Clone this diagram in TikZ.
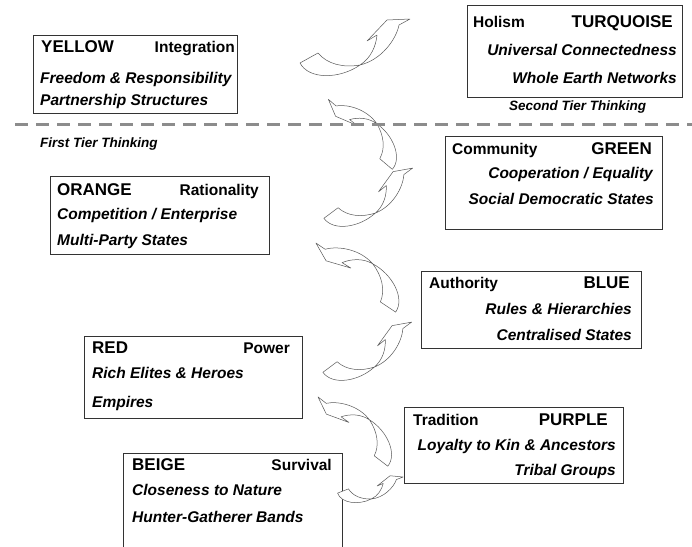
\documentclass[tikz,border=0pt]{standalone}
\usepackage{fontspec}
\setmainfont{Liberation Sans}
\usetikzlibrary{calc}

\tikzset{
  box/.style={draw=black!80, line width=0.8pt, anchor=north west},
  colourname/.style={inner sep=0pt, font=\fontsize{17}{20}\selectfont\bfseries},
  motto/.style={inner sep=0pt, font=\fontsize{15.5}{18}\selectfont\bfseries},
  trait/.style={inner sep=0pt, font=\fontsize{15.5}{18}\selectfont\bfseries\itshape},
  tierlabel/.style={inner sep=0pt, font=\fontsize{13.5}{16}\selectfont\bfseries\itshape},
  spiral/.style={draw=black!65, fill=white, line width=0.5pt, line join=round},
  twist arrow/.pic={
    % tail lobe
    \draw[spiral] (-9,5) -- (9,-5) .. controls (18,6) and (34,10) .. (51,7)
      .. controls (31,21) and (0,22) .. (-9,5) -- cycle;
    % head lobe
    \draw[spiral] (51,7) .. controls (62,0) and (67,-12) .. (68,-23) -- (58,-17)
      -- (78,-38) -- (101,-39) -- (90,-33) .. controls (87,-18) and (72,2) .. (51,7) -- cycle;
  }
}

\begin{document}
\begin{tikzpicture}[x=1pt,y=-1pt]
\path[use as bounding box, fill=white] (0,0) rectangle (692,546);

% boxes
\node[box, minimum width=204pt, minimum height=78pt] (yellow) at (33,35) {};
\node[box, minimum width=215pt, minimum height=92pt] (turquoise) at (467,5) {};
\node[box, minimum width=217pt, minimum height=93pt] (green) at (445,136) {};
\node[box, minimum width=219pt, minimum height=78pt] (orange) at (50,176) {};
\node[box, minimum width=220pt, minimum height=77pt] (blue) at (421,271) {};
\node[box, minimum width=218pt, minimum height=82pt] (red) at (84,336) {};
\node[box, minimum width=219pt, minimum height=76pt] (purple) at (404,407) {};
\node[box, minimum width=219pt, minimum height=110pt] (beige) at (123,453) {};

% YELLOW
\node[colourname, anchor=base west] (yellowname) at (41,52) {YELLOW};
\node[motto, anchor=base east] (yellowmotto) at (235,52) {Integration};
\node[trait, anchor=base west] (yellowa) at (40,83) {Freedom \& Responsibility};
\node[trait, anchor=base west] (yellowb) at (40,105) {Partnership Structures};

% TURQUOISE
\node[motto, anchor=base west] (turqmotto) at (473,27) {Holism};
\node[colourname, anchor=base east] (turqname) at (673,27) {TURQUOISE};
\node[trait, anchor=base east] (turqa) at (677,55) {Universal Connectedness};
\node[trait, anchor=base east] (turqb) at (677,83) {Whole Earth Networks};

% tiers
\node[tierlabel, anchor=base west] (second) at (509,110) {Second Tier Thinking};
\node[tierlabel, anchor=base west] (first) at (40,147) {First Tier Thinking};

% GREEN
\node[motto, anchor=base west] (greenmotto) at (452,154) {Community};
\node[colourname, anchor=base east] (greenname) at (652,154) {GREEN};
\node[trait, anchor=base east] (greena) at (653,178) {Cooperation / Equality};
\node[trait, anchor=base east] (greenb) at (654,204) {Social Democratic States};

% ORANGE
\node[colourname, anchor=base west] (orangename) at (57,195) {ORANGE};
\node[motto, anchor=base east] (orangemotto) at (259,195) {Rationality};
\node[trait, anchor=base west] (orangea) at (57,219) {Competition / Enterprise};
\node[trait, anchor=base west] (orangeb) at (57,245) {Multi-Party States};

% BLUE
\node[motto, anchor=base west] (bluemotto) at (429,288) {Authority};
\node[colourname, anchor=base east] (bluename) at (630,288) {BLUE};
\node[trait, anchor=base east] (bluea) at (632,314) {Rules \& Hierarchies};
\node[trait, anchor=base east] (blueb) at (632,340) {Centralised States};

% RED
\node[colourname, anchor=base west] (redname) at (92,353) {RED};
\node[motto, anchor=base east] (redmotto) at (290,353) {Power};
\node[trait, anchor=base west] (reda) at (92,378) {Rich Elites \& Heroes};
\node[trait, anchor=base west] (redb) at (92,407) {Empires};

% PURPLE
\node[motto, anchor=base west] (purplemotto) at (413,425) {Tradition};
\node[colourname, anchor=base east] (purplename) at (608,425) {PURPLE};
\node[trait, anchor=base east] (purplea) at (616,450) {Loyalty to Kin \& Ancestors};
\node[trait, anchor=base east] (purpleb) at (616,475) {Tribal Groups};

% BEIGE
\node[colourname, anchor=base west] (beigename) at (132,470) {BEIGE};
\node[motto, anchor=base east] (beigemotto) at (332,470) {Survival};
\node[trait, anchor=base west] (beigea) at (132,495) {Closeness to Nature};
\node[trait, anchor=base west] (beigeb) at (132,522) {Hunter-Gatherer Bands};

% spiral arrows
\pic[rotate=-8, scale=0.57] at (343,491) {twist arrow};
\pic[rotate=113.4, scale=0.83] at (381,461) {twist arrow};
\pic[rotate=7.7, scale=0.86] at (330,367) {twist arrow};
\pic[rotate=117.3, scale=0.89] at (388,307) {twist arrow};
\pic[rotate=7.7, scale=0.86] at (331,213) {twist arrow};
\pic[rotate=110.6, scale=0.80] at (386,164) {twist arrow};
\pic at (309,58) {twist arrow};

% tier divider
\draw[black!45, line width=3pt, dash pattern=on 13pt off 8pt] (15,124) -- (692,124);
\end{tikzpicture}
\end{document}
